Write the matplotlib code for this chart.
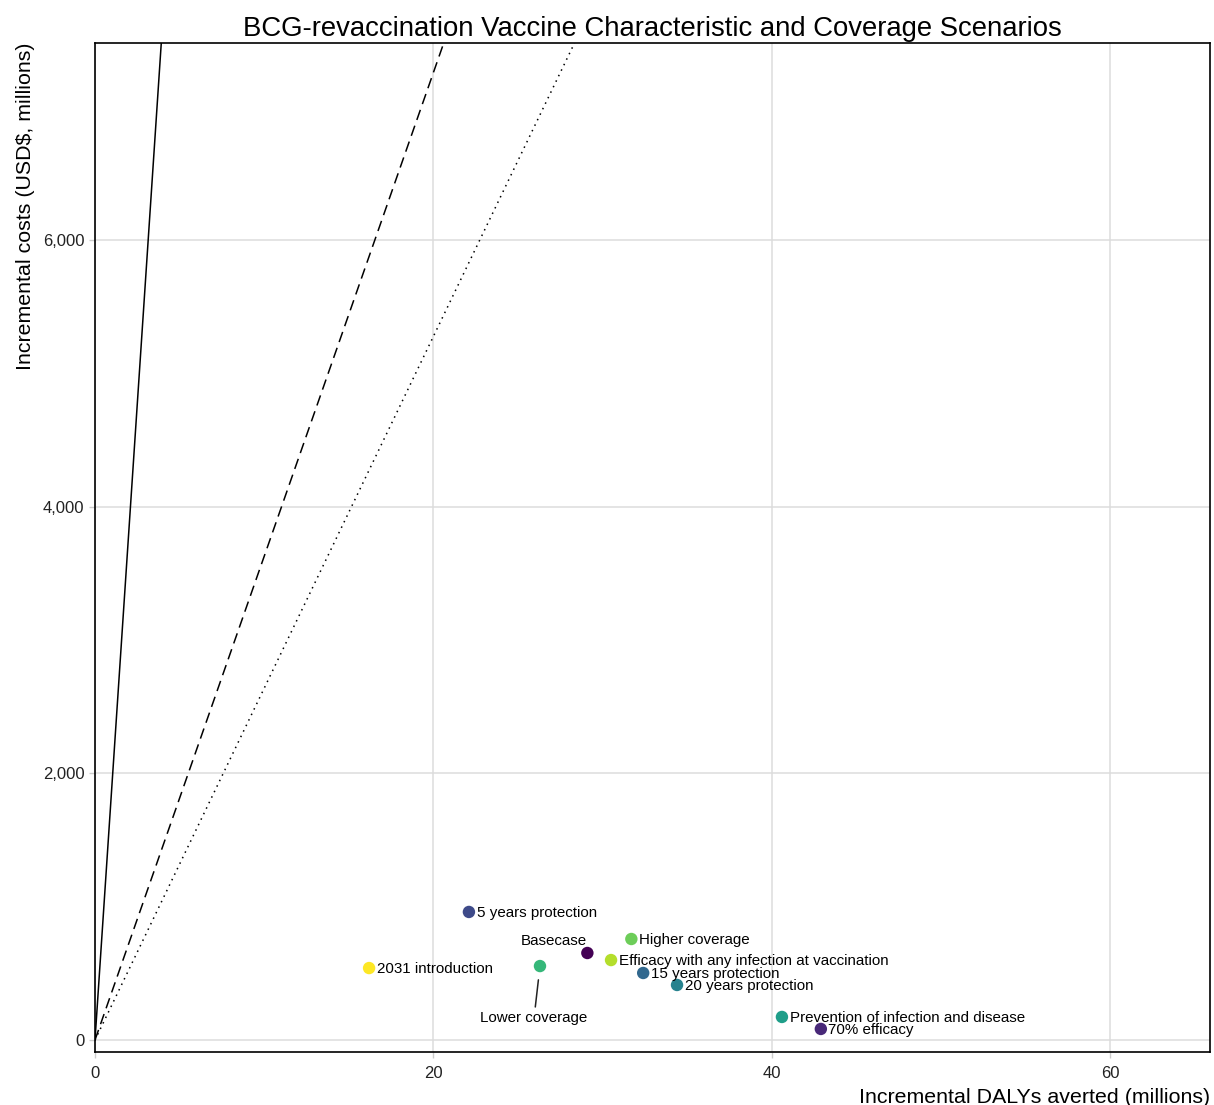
import matplotlib
matplotlib.use("Agg")
import matplotlib.pyplot as plt

plt.rcParams['font.family'] = ['Liberation Sans', 'DejaVu Sans']

# scenarios, in factor order (viridis colours follow this order)
scenarios = ["Basecase", "70% efficacy", "5 years protection", "15 years protection",
             "20 years protection", "Prevention of infection and disease",
             "Lower coverage", "Higher coverage",
             "Efficacy with any infection at vaccination", "2031 introduction"]
dalys_averted = [29.1, 42.9, 22.1, 32.4, 34.4, 40.6, 26.3, 31.7, 30.5, 16.2]
incr_costs = [653, 83, 961, 503, 413, 173, 555, 758, 600, 540]
colours = ["#440154", "#482878", "#3E4A89", "#31688E", "#26828E",
           "#1F9E89", "#35B779", "#6DCD59", "#B4DE2C", "#FDE725"]

# cost-effectiveness threshold lines (USD per DALY averted)
thresholds = [1910, 363, 264]
threshold_styles = ["-", (0, (7, 4)), (0, (1, 3))]

# label offsets in points (default: right of the point)
offsets = {"Basecase": (-24.5, 8.6, "center"),
           "Lower coverage": (-4.3, -37.5, "center")}

fig = plt.figure(figsize=(12.14, 11.05), dpi=100)
ax = fig.add_axes([95 / 1214, 1 - 1052 / 1105, 1115 / 1214, 1009 / 1105])

for slope, ls in zip(thresholds, threshold_styles):
    ax.axline((0, 0), slope=slope, color="black", lw=1.1, linestyle=ls, zorder=2)

ax.scatter(dalys_averted, incr_costs, c=colours, s=80, zorder=3, linewidths=0)

for name, x, y in zip(scenarios, dalys_averted, incr_costs):
    if name in offsets:
        dx, dy, ha = offsets[name]
        arrow = None
        if name == "Lower coverage":
            arrow = dict(arrowstyle="-", color="#222222", lw=1.1, shrinkA=1, shrinkB=10)
        ax.annotate(name, (x, y), xytext=(dx, dy), textcoords="offset points",
                    ha=ha, va="center", fontsize=10.9, color="black",
                    arrowprops=arrow, zorder=4)
    else:
        ax.annotate(name, (x, y), xytext=(5.5, -0.8), textcoords="offset points",
                    ha="left", va="center", fontsize=10.9, color="black", zorder=4)

ax.set_xlim(0, 65.9)
ax.set_ylim(-90, 7482)
ax.set_xticks([0, 20, 40, 60])
ax.set_yticks([0, 2000, 4000, 6000])
ax.set_yticklabels(["0", "2,000", "4,000", "6,000"])

ax.grid(True, color="#dcdcdc", lw=1.1)
ax.set_axisbelow(True)
ax.tick_params(length=4, width=1, color="#cccccc", labelsize=12, labelcolor="#222222")
ax.tick_params(axis="x", pad=6)
for sp in ax.spines.values():
    sp.set_color("black")
    sp.set_linewidth(1.2)

ax.set_title("BCG-revaccination Vaccine Characteristic and Coverage Scenarios",
             fontsize=19.8, pad=5)
ax.set_xlabel("Incremental DALYs averted (millions)", fontsize=15.4, loc="right", labelpad=5)
ax.set_ylabel("Incremental costs (USD$, millions)", fontsize=15.4, loc="top", labelpad=6)

fig.savefig("out.png", dpi=100)
